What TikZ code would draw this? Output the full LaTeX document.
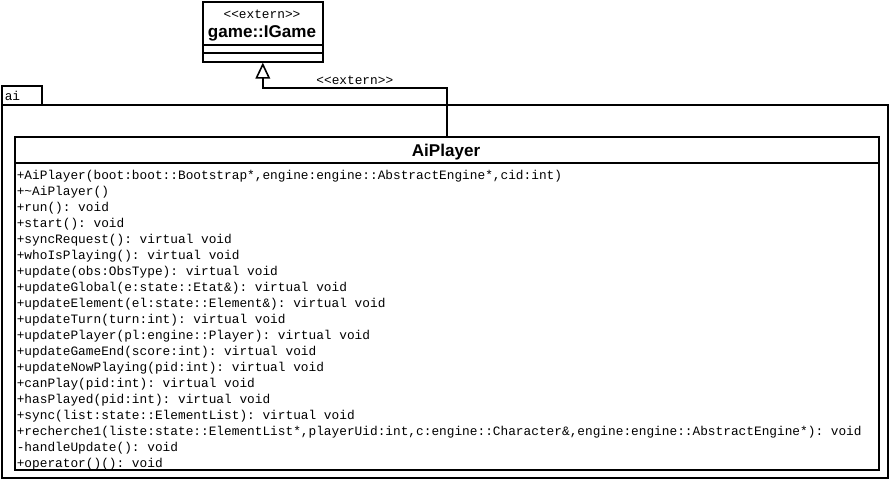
\documentclass[tikz,border=0pt]{standalone}
\usepackage{fontspec}
\setmainfont{Liberation Sans}
\newfontfamily\umlmono{Liberation Mono}
\usetikzlibrary{arrows.meta}
\frenchspacing

\begin{document}
\begin{tikzpicture}[x=0.75pt, y=-0.75pt, line width=1.2pt,
    box/.style={draw, inner sep=0pt, anchor=north west},
    mono/.style={font=\umlmono\fontsize{9.6}{12}\selectfont, inner sep=0pt},
    classname/.style={font=\bfseries\fontsize{12.8}{15}\selectfont, inner sep=0pt, anchor=base}]
      \useasboundingbox (0,0) rectangle (890,480);

      % package ai
      \node[box, minimum width=30pt, minimum height=14.25pt] (aitab) at (1,85) {};
      \node[box, minimum width=664.5pt, minimum height=279.75pt] (aipkg) at (1,104) {};
      \node[mono, anchor=base west] (ailabel) at (4,100) {ai};

      % interface game::IGame
      \node[box, minimum width=90pt, minimum height=45pt] (igame) at (202,1) {};
      \draw (igame.north west) +(0,44) -- +(120,44);
      \draw (igame.north west) +(0,52) -- +(120,52);
      \node[mono, anchor=base] (igamest) at (262,18) {<<extern>>};
      \node[classname] (igamename) at (262,37) {game::IGame};

      % class AiPlayer
      \node[box, minimum width=648pt, minimum height=249.75pt] (aiplayer) at (14,136) {};
      \draw (aiplayer.north west) +(0,27) -- +(864,27);
      \node[classname] (ainame) at (446,156) {AiPlayer};

      % operations
      \foreach \op [count=\i] in {
          {+AiPlayer(boot:boot::Bootstrap*,engine:engine::AbstractEngine*,cid:int)},
          {+\textasciitilde AiPlayer()},
          {+run(): void},
          {+start(): void},
          {+syncRequest(): virtual void},
          {+whoIsPlaying(): virtual void},
          {+update(obs:ObsType): virtual void},
          {+updateGlobal(e:state::Etat\&): virtual void},
          {+updateElement(el:state::Element\&): virtual void},
          {+updateTurn(turn:int): virtual void},
          {+updatePlayer(pl:engine::Player): virtual void},
          {+updateGameEnd(score:int): virtual void},
          {+updateNowPlaying(pid:int): virtual void},
          {+canPlay(pid:int): virtual void},
          {+hasPlayed(pid:int): virtual void},
          {+sync(list:state::ElementList): virtual void},
          {+recherche1(liste:state::ElementList*,playerUid:int,c:engine::Character\&,engine:engine::AbstractEngine*): void},
          {-handleUpdate(): void},
          {+operator()(): void}}
        \node[mono, anchor=base west] (op\i) at (16,163+16*\i) {\op};

      % realization
      \draw[-{Triangle[open, length=12pt, width=11pt]}] (aiplayer.north) -- ++(0,-48)
        -| node[pos=0.25, above, mono, inner sep=2pt] (extlabel) {<<extern>>} (igame.south);
    \end{tikzpicture}
\end{document}
